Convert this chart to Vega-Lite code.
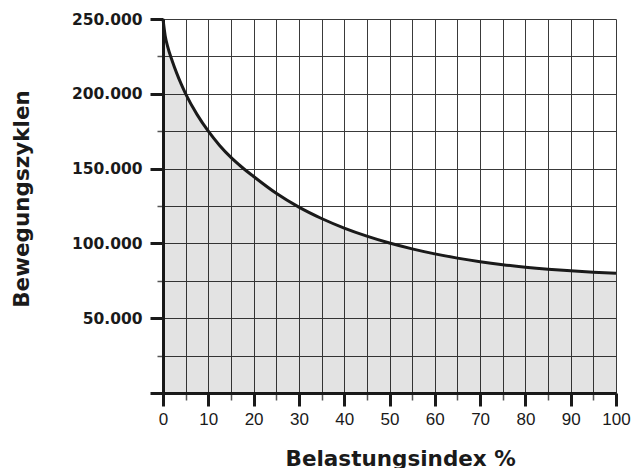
{
  "$schema": "https://vega.github.io/schema/vega-lite/v6.json",
  "width": 453,
  "height": 374,
  "autosize": {"type": "none"},
  "padding": {"left": 163, "top": 19, "right": 15, "bottom": 75},
  "background": "white",
  "config": {"view": {"stroke": null}},
  "data": {"values": [
    {"index": 0, "cycles": 250000},
    {"index": 0.5, "cycles": 238500},
    {"index": 1, "cycles": 231900},
    {"index": 2, "cycles": 222300},
    {"index": 3, "cycles": 214000},
    {"index": 4, "cycles": 206600},
    {"index": 5, "cycles": 200000},
    {"index": 7.5, "cycles": 186250},
    {"index": 10, "cycles": 175000},
    {"index": 12.5, "cycles": 165500},
    {"index": 15, "cycles": 157500},
    {"index": 17.5, "cycles": 150750},
    {"index": 20, "cycles": 144750},
    {"index": 25, "cycles": 133500},
    {"index": 30, "cycles": 124250},
    {"index": 35, "cycles": 116650},
    {"index": 40, "cycles": 110250},
    {"index": 45, "cycles": 104850},
    {"index": 50, "cycles": 100250},
    {"index": 55, "cycles": 96350},
    {"index": 60, "cycles": 93000},
    {"index": 65, "cycles": 90150},
    {"index": 70, "cycles": 87750},
    {"index": 75, "cycles": 85750},
    {"index": 80, "cycles": 84100},
    {"index": 85, "cycles": 82750},
    {"index": 90, "cycles": 81650},
    {"index": 95, "cycles": 80750},
    {"index": 100, "cycles": 80000}
  ]},
  "encoding": {
    "x": {
      "field": "index", "type": "quantitative",
      "scale": {"domain": [0, 100], "nice": false, "zero": false},
      "axis": {
        "title": "Belastungsindex %",
        "values": [0,5,10,15,20,25,30,35,40,45,50,55,60,65,70,75,80,85,90,95,100],
        "labelExpr": "datum.value % 10 === 0 ? format(datum.value, 'd') : ''",
        "labelFont": "Liberation Sans", "labelFontSize": 17, "labelColor": "#1a1a1a",
        "labelPadding": 5, "labelFlush": false, "labelOverlap": false, "labelBound": false,
        "tickSize": {"condition": {"test": "datum.value % 10 === 0", "value": 13}, "value": 7},
        "tickWidth": {"condition": {"test": "datum.value % 10 === 0", "value": 3}, "value": 1.5},
        "tickColor": {"condition": {"test": "datum.value % 10 === 0", "value": "#1a1a1a"}, "value": "#555555"},
        "domainColor": "#1a1a1a", "domainWidth": 3,
        "grid": true, "gridColor": "#3a3a3a", "gridWidth": 1, "gridOpacity": 1,
        "titleFont": "DejaVu Sans", "titleFontWeight": "bold", "titleFontSize": 21.5, "titleColor": "#1a1a1a",
        "titlePadding": 21.5, "titleX": 122, "titleAnchor": "start", "titleAlign": "left"
      }
    },
    "y": {
      "field": "cycles", "type": "quantitative",
      "scale": {"domain": [0, 250000], "nice": false, "zero": true},
      "axis": {
        "title": "Bewegungszyklen",
        "values": [0,25000,50000,75000,100000,125000,150000,175000,200000,225000,250000],
        "labelExpr": "datum.value > 0 && datum.value % 50000 === 0 ? replace(format(datum.value, ','), ',', '.') : ''",
        "labelFont": "DejaVu Sans", "labelFontWeight": "bold", "labelFontSize": 15.5, "labelColor": "#1a1a1a",
        "labelPadding": 8, "labelOverlap": false, "labelBound": false, "labelFlush": false,
        "tickSize": {"condition": {"test": "datum.value % 50000 === 0", "value": 13}, "value": 6},
        "tickWidth": {"condition": {"test": "datum.value % 50000 === 0", "value": 3}, "value": 1.5},
        "tickColor": {"condition": {"test": "datum.value % 50000 === 0", "value": "#1a1a1a"}, "value": "#555555"},
        "domainColor": "#1a1a1a", "domainWidth": 3,
        "grid": true, "gridColor": "#3a3a3a", "gridWidth": 1, "gridOpacity": 1,
        "titleFont": "DejaVu Sans", "titleFontWeight": "bold", "titleFontSize": 21.5, "titleColor": "#1a1a1a",
        "titleX": -130, "titleY": 179.5, "titleAnchor": "middle"
      }
    }
  },
  "layer": [
    {"mark": {"type": "area", "color": "#000000", "opacity": 0.11, "interpolate": "monotone"}},
    {"mark": {"type": "line", "color": "#1a1a1a", "strokeWidth": 3, "interpolate": "monotone"}}
  ]
}
